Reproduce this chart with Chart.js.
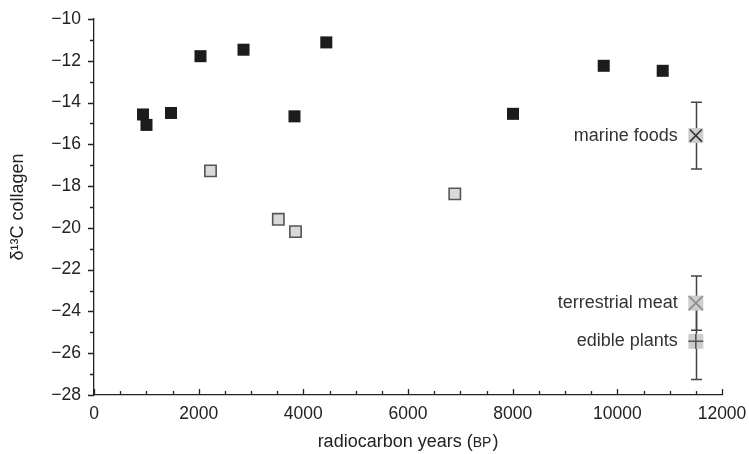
<!DOCTYPE html>
<html>
<head>
<title>d13C collagen vs radiocarbon years</title>
<script src="https://cdn.jsdelivr.net/npm/chart.js"></script>
<style>
  body { margin: 0; background: #fff; }
</style>
</head>
<body>
<canvas id="myChart" width="749" height="454"></canvas>
<script>
// dark squares
const darkYears = [936, 1003, 1471, 2035, 2857, 3831, 4439, 8006, 9740, 10867];
const darkD13C  = [-14.57, -15.07, -14.5, -11.78, -11.47, -14.66, -11.12, -14.54, -12.24, -12.48];

// light grey squares
const lightYears = [2226, 3522, 3850, 6894];
const lightD13C  = [-17.27, -19.59, -20.18, -18.37];

// food reference values (mean +/- spread)
const refLabels = ['marine foods', 'terrestrial meat', 'edible plants'];
const refYears  = [11500, 11500, 11500];
const refD13C   = [-15.58, -23.6, -25.43];
const refErr    = [1.6, 1.3, 1.83];

const FONT = '"Liberation Sans", Arial, Helvetica, sans-serif';
const INK = '#222';

function minus(v) {
    return v < 0 ? '\u2212' + Math.abs(v) : String(v);
}

// error bars, tick marks, food labels and x title
const extras = {
    id: 'extras',
    beforeDatasetsDraw(chart) {
        const ctx = chart.ctx;
        const xs = chart.scales.x, ys = chart.scales.y;
        ctx.save();
        ctx.strokeStyle = '#444';
        ctx.lineWidth = 1.5;
        for (let i = 0; i < refD13C.length; i++) {
            const px = Math.round(xs.getPixelForValue(refYears[i])) + 0.5;
            const top = ys.getPixelForValue(refD13C[i] + refErr[i]);
            const bot = ys.getPixelForValue(refD13C[i] - refErr[i]);
            ctx.beginPath();
            ctx.moveTo(px, top); ctx.lineTo(px, bot);
            ctx.moveTo(px - 5.5, top); ctx.lineTo(px + 5.5, top);
            ctx.moveTo(px - 5.5, bot); ctx.lineTo(px + 5.5, bot);
            ctx.stroke();
        }
        ctx.restore();
    },
    afterDraw(chart) {
        const ctx = chart.ctx;
        const xs = chart.scales.x, ys = chart.scales.y;
        const area = chart.chartArea;
        ctx.save();
        ctx.strokeStyle = INK;
        ctx.lineWidth = 1.3;
        ctx.beginPath();
        // y ticks, pointing out
        for (let v = -28; v <= -10; v++) {
            const py = Math.round(ys.getPixelForValue(v)) + 0.5;
            const len = (v % 2 === 0) ? 6 : 4;
            ctx.moveTo(area.left, py); ctx.lineTo(area.left - len, py);
        }
        // x ticks, pointing up
        for (let v = 0; v <= 12000; v += 500) {
            const px = Math.round(xs.getPixelForValue(v)) + 0.5;
            const len = (v % 2000 === 0) ? 6 : 4;
            ctx.moveTo(px, area.bottom); ctx.lineTo(px, area.bottom - len);
        }
        ctx.stroke();

        // food labels
        const meta = chart.getDatasetMeta(3);
        ctx.fillStyle = '#333';
        ctx.font = '18px ' + FONT;
        ctx.textAlign = 'right';
        ctx.textBaseline = 'middle';
        meta.data.forEach((pt, i) => {
            ctx.fillText(refLabels[i], pt.x - 18, pt.y);
        });

        // x title with small caps BP
        const main1 = 'radiocarbon years (';
        const sc = 'BP';
        const main2 = ')';
        ctx.font = '18px ' + FONT;
        const w1 = ctx.measureText(main1).width;
        const w3 = ctx.measureText(main2).width;
        ctx.font = '14px ' + FONT;
        const w2 = ctx.measureText(sc).width + 1;
        const total = w1 + w2 + w3;
        let x0 = (area.left + area.right) / 2 - total / 2;
        const ty = 447;
        ctx.textAlign = 'left';
        ctx.textBaseline = 'alphabetic';
        ctx.fillStyle = INK;
        ctx.font = '18px ' + FONT;
        ctx.fillText(main1, x0, ty);
        ctx.font = '14px ' + FONT;
        ctx.fillText(sc, x0 + w1, ty);
        ctx.font = '18px ' + FONT;
        ctx.fillText(main2, x0 + w1 + w2, ty);
        ctx.restore();
    }
};

const ctx = document.getElementById('myChart').getContext('2d');
const myChart = new Chart(ctx, {
    type: 'scatter',
    data: {
        datasets: [
            {
                label: 'food marker',
                data: refYears.map((x, i) => ({ x: x, y: refD13C[i] })),
                pointStyle: ['crossRot', 'crossRot', 'cross'],
                pointRadius: [8.5, 10, 7.5],
                pointBorderColor: ['#333', '#8a8a8a', '#555'],
                pointBackgroundColor: 'rgba(0,0,0,0)',
                pointBorderWidth: 1.6
            },
            {
                label: 'dark',
                data: darkYears.map((x, i) => ({ x: x, y: darkD13C[i] })),
                pointStyle: 'rect',
                pointRadius: 8.5,
                pointBackgroundColor: '#1c1c1c',
                pointBorderColor: '#1c1c1c',
                pointBorderWidth: 0
            },
            {
                label: 'light',
                data: lightYears.map((x, i) => ({ x: x, y: lightD13C[i] })),
                pointStyle: 'rect',
                pointRadius: 8,
                pointBackgroundColor: '#d9d9d9',
                pointBorderColor: '#555',
                pointBorderWidth: 1.6
            },
            {
                label: 'food background',
                data: refYears.map((x, i) => ({ x: x, y: refD13C[i] })),
                pointStyle: 'rect',
                pointRadius: 10.6,
                pointBackgroundColor: '#cdcdcd',
                pointBorderColor: '#cdcdcd',
                pointBorderWidth: 0
            }
        ]
    },
    options: {
        responsive: false,
        animation: false,
        events: [],
        layout: { padding: { left: 0, right: 27, top: 19, bottom: 0 } },
        plugins: {
            legend: { display: false },
            tooltip: { enabled: false }
        },
        scales: {
            x: {
                type: 'linear',
                min: 0,
                max: 12000,
                afterFit: (scale) => {
                    scale.height = 59;
                    scale.paddingLeft = 0;
                    scale.paddingRight = 0;
                },
                grid: { display: false, drawTicks: false },
                border: { display: true, color: INK, width: 1.3 },
                ticks: {
                    stepSize: 2000,
                    padding: 9,
                    color: INK,
                    font: { family: FONT, size: 17.5 },
                    maxRotation: 0,
                    callback: (v) => String(v)
                },
                title: { display: false }
            },
            y: {
                type: 'linear',
                min: -28,
                max: -10,
                afterFit: (scale) => {
                    scale.width = 94;
                    scale.paddingTop = 0;
                    scale.paddingBottom = 0;
                },
                grid: { display: false, drawTicks: false },
                border: { display: true, color: INK, width: 1.3 },
                ticks: {
                    stepSize: 2,
                    padding: 13,
                    color: INK,
                    font: { family: FONT, size: 17.5 },
                    callback: (v) => minus(v)
                },
                title: {
                    display: true,
                    text: '\u03b4\u00b9\u00b3C collagen',
                    color: INK,
                    font: { family: FONT, size: 18 },
                    padding: { top: 7, bottom: 0 }
                }
            }
        }
    },
    plugins: [extras]
});
</script>
</body>
</html>
